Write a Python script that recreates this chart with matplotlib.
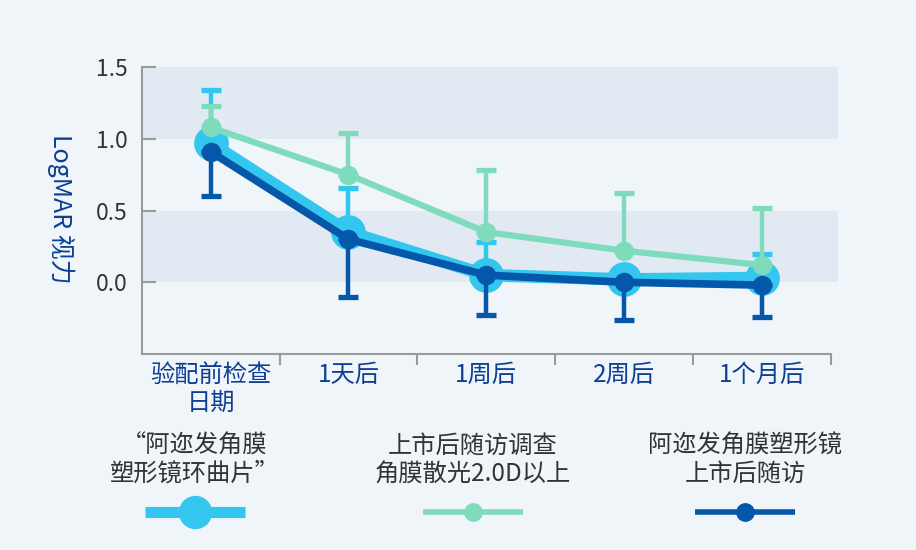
import numpy as np
import matplotlib
matplotlib.use("Agg")
import matplotlib.pyplot as plt
from matplotlib.lines import Line2D

plt.rcParams['font.family'] = ['Noto Sans CJK SC', 'DejaVu Sans']

# 数据
categories = ["验配前检查\n日期", "1天后", "1周后", "2周后", "1个月后"]
toric_mean = [0.97, 0.35, 0.05, 0.02, 0.03]
toric_up = [0.37, 0.31, 0.23, 0.02, 0.17]
survey_mean = [1.08, 0.75, 0.35, 0.22, 0.12]
survey_up = [0.15, 0.29, 0.43, 0.40, 0.40]
followup_mean = [0.91, 0.30, 0.05, 0.00, -0.02]
followup_down = [0.31, 0.40, 0.28, 0.26, 0.22]
yticks = [0.0, 0.5, 1.0, 1.5]
series_names = ["“阿迩发角膜\n塑形镜环曲片”", "上市后随访调查\n角膜散光2.0D以上", "阿迩发角膜塑形镜\n上市后随访"]

bg = "#F0F5FA"
band = "#E1EAF3"
cyan = "#33C6EE"
mint = "#7EDBBC"
navy = "#0457A9"
label_blue = "#0D3F92"
gray_txt = "#333333"

fig = plt.figure(figsize=(9.16, 5.5), dpi=100, facecolor=bg)
ax = fig.add_axes([0.1547, 0.3564, 0.7522, 0.5216])
ax.set_facecolor(bg)

x = np.arange(len(categories))
zeros = np.zeros(len(x))

# 背景条
for lo, hi in [(0.0, 0.5), (1.0, 1.5)]:
    ax.axhspan(lo, hi, xmin=0, xmax=1.0106, color=band, lw=0, zorder=0, clip_on=False)

ax.errorbar(x, toric_mean, yerr=[zeros, toric_up], color=cyan, lw=9, marker='o', ms=24,
            ecolor=cyan, elinewidth=3.2, capsize=7.5, capthick=3.8, zorder=2)
ax.errorbar(x, followup_mean, yerr=[followup_down, zeros], color=navy, lw=5.5, marker='o', ms=13,
            ecolor=navy, elinewidth=3.2, capsize=7.5, capthick=3.8, zorder=3)
ax.errorbar(x, survey_mean, yerr=[zeros, survey_up], color=mint, lw=4.5, marker='o', ms=13,
            ecolor=mint, elinewidth=3.2, capsize=7.5, capthick=3.8, zorder=4)

ax.set_xlim(-0.5, 4.5)
ax.set_ylim(-0.5, 1.5)
ax.set_yticks(yticks)
ax.set_yticklabels([f"{v:.1f}" for v in yticks], fontsize=16.5, color=gray_txt)
ax.set_xticks(x + 0.5, minor=False)
ax.set_xticks(x, minor=True)
ax.set_xticklabels([])
ax.set_xticklabels(categories, minor=True, fontsize=17.5, color=label_blue, linespacing=1.05)
ax.tick_params(axis='y', direction='in', length=10, width=1.5, color='#9A9A9A', pad=10)
ax.tick_params(axis='x', which='major', direction='out', length=8, width=1.5, color='#9A9A9A')
ax.tick_params(axis='x', which='minor', length=0, pad=6)
for s in ['top', 'right']:
    ax.spines[s].set_visible(False)
for s in ['left', 'bottom']:
    ax.spines[s].set_color('#9A9A9A')
    ax.spines[s].set_linewidth(1.5)

fig.text(0.066, 0.62, "LogMAR 视力", rotation=270, fontsize=18, color=label_blue,
         ha='center', va='center')

# 图例
colors = [cyan, mint, navy]
lws = [8, 4, 4]
mss = [23, 12.5, 12.5]
centers = [195, 473, 745]
for name, c, lw, ms, cx in zip(series_names, colors, lws, mss, centers):
    fig.text(cx / 916, 1 - 460 / 550, name, fontsize=17.5, color=gray_txt,
             ha='center', va='center', linespacing=1.1)
    fig.add_artist(Line2D([(cx - 50) / 916, (cx + 50) / 916], [1 - 512 / 550] * 2,
                          color=c, lw=lw, solid_capstyle='butt'))
    fig.add_artist(Line2D([cx / 916], [1 - 512 / 550], marker='o', ms=ms, color=c, lw=0))

fig.savefig("out.png", dpi=100, facecolor=bg)
